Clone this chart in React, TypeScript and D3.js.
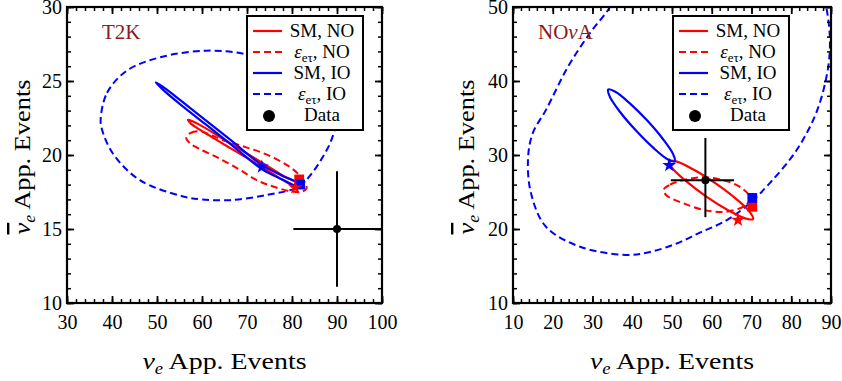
import React, { useEffect, useRef } from 'react';
import * as d3 from 'd3';

type Pt = [number, number];

// ---- T2K panel ----
const t2kXTicks = [30, 40, 50, 60, 70, 80, 90, 100];
const t2kYTicks = [10, 15, 20, 25, 30];

const t2kSmNo: Pt[] = [
  [56.9, 22.38], [59.6, 22.02], [66.2, 20.8], [72.9, 19.57], [78, 18.6], [81.4, 18.02],
  [81.0, 17.85], [78, 18.3], [72.9, 19.27], [66.2, 20.48], [59.6, 21.7], [57.6, 22.1],
];
const t2kEtNo: Pt[] = [
  [56.5, 21.15], [57.5, 21.5], [59.6, 21.6], [62, 21.35], [64.7, 21.0], [67.5, 20.75],
  [70, 20.5], [73, 20.2], [76, 19.8], [79, 19.3], [81.1, 18.8], [82.8, 18.2], [83.2, 17.75],
  [82, 17.5], [79.6, 17.55], [76, 17.85], [72.5, 18.25], [68.4, 19.0], [63.3, 19.85],
  [59.5, 20.4], [57.3, 20.8],
];
const t2kSmIo: Pt[] = [
  [49.7, 24.9], [51.8, 24.5], [55.1, 23.72], [60.7, 22.38], [66.2, 21.05], [73.3, 19.33],
  [77.6, 18.63], [81.8, 18.02], [81.6, 17.86], [77.6, 18.38], [73.3, 19.05], [66.2, 20.77],
  [60.7, 22.1], [55.1, 23.44], [51.8, 24.28],
];
const t2kEtIo: Pt[] = [
  [37.5, 22.5], [38.9, 24.2], [43.3, 25.7], [50.7, 26.6], [61, 27.05], [70, 26.8], [78, 26.0],
  [85, 24.7], [89, 23.3], [89.8, 22.3], [88.6, 20.9], [86.5, 19.7], [84, 18.6], [81.5, 17.85],
  [74.4, 17.3], [66.2, 16.95], [60, 17.0], [55.8, 17.2], [46.2, 18.3], [40.2, 20.1], [37.7, 21.8],
];
const t2kStarNo: Pt = [80.7, 17.8];
const t2kStarIo: Pt = [73.3, 19.2];
const t2kSquareNo: Pt = [81.6, 18.35];
const t2kSquareIo: Pt = [81.8, 18.0];
const t2kData: Pt = [90, 15];
const t2kDataErrX: Pt = [80.3, 100];
const t2kDataErrY: Pt = [11.1, 18.9];

// ---- NOvA panel ----
const novaXTicks = [10, 20, 30, 40, 50, 60, 70, 80, 90];
const novaYTicks = [10, 20, 30, 40, 50];

const novaSmNo: Pt[] = [
  [70.38, 21.35], [69.55, 22.32], [66.1, 24.08], [60.97, 26.16], [55.51, 28.0], [51.23, 29.11],
  [49.25, 29.19], [50.08, 28.22], [53.55, 26.46], [58.65, 24.38], [64.11, 22.54], [68.39, 21.43],
];
const novaEtNo: Pt[] = [
  [47.9, 25.3], [49.5, 26.0], [52.8, 26.6], [57.8, 27.0], [62.8, 26.6], [67.1, 25.7], [69.6, 24.3],
  [68.8, 23.3], [67.1, 22.8], [62.8, 22.3], [57.8, 22.6], [52.8, 23.5], [48.7, 24.5],
];
const novaSmIo: Pt[] = [
  [50.7, 29.14], [50.28, 30.12], [47.71, 32.16], [43.71, 34.68], [39.33, 37.01], [35.76, 38.54],
  [33.95, 38.84], [34.38, 37.85], [36.94, 35.81], [40.94, 33.3], [45.32, 30.96], [48.89, 29.43],
];
// open curve, clipped by the frame
const novaEtIo: Pt[] = [
  [35.5, 51.5], [34.4, 50], [29.4, 46.5], [23.8, 41.9], [18.3, 36.1], [15, 33], [13.8, 29.7],
  [14.5, 24.9], [18.3, 20.3], [26.9, 17.6], [38.4, 16.5], [44.5, 16.9], [51, 18], [57, 19.5],
  [63.8, 21.2], [69.6, 23.5], [74.6, 26.2], [81.4, 30.7], [86.5, 36], [89.3, 41.9], [89.7, 46],
  [88.8, 50], [88, 51.5],
];
const novaStarNo: Pt = [66.6, 21.2];
const novaStarIo: Pt = [49.3, 28.6];
const novaSquareNo: Pt = [70.2, 23.0];
const novaSquareIo: Pt = [70.2, 24.2];
const novaData: Pt = [58.4, 26.6];
const novaDataErrX: Pt = [49.7, 65.6];
const novaDataErrY: Pt = [21.6, 32.3];

const legendLabels = ['SM, NO', 'εeτ, NO', 'SM, IO', 'εeτ, IO', 'Data'];

const FONT = "'Liberation Serif', 'Times New Roman', Times, serif";
const RED = '#ff0000';
const BLUE = '#0000ff';
const LABEL_RED = '#8c1a1a';

const App = () => {
  const svgRef = useRef<SVGSVGElement>(null);

  useEffect(() => {
    const svg = d3.select(svgRef.current);
    svg.selectAll('*').remove();
    svg.attr('font-family', FONT);

    const panels = [
      {
        id: 't2k', name: ['T2K'], box: { left: 67, right: 382, top: 7, bottom: 303 },
        xDomain: [30, 100], yDomain: [10, 30], xTicks: t2kXTicks, yTicks: t2kYTicks, xStep: 2, yStep: 1,
        smNo: t2kSmNo, etNo: t2kEtNo, smIo: t2kSmIo, etIo: t2kEtIo, etIoClosed: true,
        starNo: t2kStarNo, starIo: t2kStarIo, sqNo: t2kSquareNo, sqIo: t2kSquareIo,
        data: t2kData, errX: t2kDataErrX, errY: t2kDataErrY,
        legendX: 247, nameX: 102, yTitleX: 30,
      },
      {
        id: 'nova', name: ['NO', 'ν', 'A'], box: { left: 513, right: 831, top: 7, bottom: 303 },
        xDomain: [10, 90], yDomain: [10, 50], xTicks: novaXTicks, yTicks: novaYTicks, xStep: 2, yStep: 2,
        smNo: novaSmNo, etNo: novaEtNo, smIo: novaSmIo, etIo: novaEtIo, etIoClosed: false,
        starNo: novaStarNo, starIo: novaStarIo, sqNo: novaSquareNo, sqIo: novaSquareIo,
        data: novaData, errX: novaDataErrX, errY: novaDataErrY,
        legendX: 673, nameX: 538, yTitleX: 474,
      },
    ];

    panels.forEach((p) => {
      const { left, right, top, bottom } = p.box;
      const x = d3.scaleLinear().domain(p.xDomain).range([left, right]);
      const y = d3.scaleLinear().domain(p.yDomain).range([bottom, top]);

      svg.append('clipPath').attr('id', `clip-${p.id}`)
        .append('rect').attr('x', left).attr('y', top)
        .attr('width', right - left).attr('height', bottom - top);

      const plot = svg.append('g').attr('clip-path', `url(#clip-${p.id})`);

      const closed = d3.line<Pt>().x(d => x(d[0])).y(d => y(d[1])).curve(d3.curveCatmullRomClosed.alpha(0.5));
      const open = d3.line<Pt>().x(d => x(d[0])).y(d => y(d[1])).curve(d3.curveCatmullRom.alpha(0.5));

      const contours = [
        { pts: p.etIo, color: BLUE, dashed: true, gen: p.etIoClosed ? closed : open },
        { pts: p.etNo, color: RED, dashed: true, gen: closed },
        { pts: p.smNo, color: RED, dashed: false, gen: closed },
        { pts: p.smIo, color: BLUE, dashed: false, gen: closed },
      ];
      contours.forEach(c => {
        plot.append('path')
          .attr('d', c.gen(c.pts))
          .attr('fill', 'none')
          .attr('stroke', c.color)
          .attr('stroke-width', c.dashed ? 2 : 2.2)
          .attr('stroke-dasharray', c.dashed ? '7,4' : null);
      });

      const square = d3.symbol().type(d3.symbolSquare).size(95);
      const star = d3.symbol().type(d3.symbolStar).size(60);
      [
        { pt: p.sqNo, color: RED, sym: square },
        { pt: p.sqIo, color: BLUE, sym: square },
        { pt: p.starNo, color: RED, sym: star },
        { pt: p.starIo, color: BLUE, sym: star },
      ].forEach(m => {
        plot.append('path')
          .attr('d', m.sym())
          .attr('transform', `translate(${x(m.pt[0])},${y(m.pt[1])})`)
          .attr('fill', m.color);
      });

      // data point with error bars
      plot.append('line')
        .attr('x1', x(p.errX[0])).attr('x2', x(p.errX[1]))
        .attr('y1', y(p.data[1])).attr('y2', y(p.data[1]))
        .attr('stroke', '#000').attr('stroke-width', 2);
      plot.append('line')
        .attr('x1', x(p.data[0])).attr('x2', x(p.data[0]))
        .attr('y1', y(p.errY[0])).attr('y2', y(p.errY[1]))
        .attr('stroke', '#000').attr('stroke-width', 2);
      plot.append('circle')
        .attr('cx', x(p.data[0])).attr('cy', y(p.data[1])).attr('r', 4).attr('fill', '#000');

      // experiment name
      const nm = svg.append('text')
        .attr('x', p.nameX).attr('y', 39)
        .attr('font-size', 21).attr('fill', LABEL_RED);
      p.name.forEach(s => {
        nm.append('tspan').attr('font-style', s === 'ν' ? 'italic' : null).text(s);
      });

      // legend
      const lg = svg.append('g').attr('transform', `translate(${p.legendX},16)`);
      lg.append('rect').attr('width', 116).attr('height', 114)
        .attr('fill', '#fff').attr('stroke', '#000').attr('stroke-width', 2);
      const legendStyles = [
        { color: RED, dash: null }, { color: RED, dash: '7,4' },
        { color: BLUE, dash: null }, { color: BLUE, dash: '7,4' },
      ];
      legendLabels.forEach((label, i) => {
        const cy = 15 + i * 21;
        if (i < 4) {
          lg.append('line')
            .attr('x1', 6).attr('x2', 35).attr('y1', cy).attr('y2', cy)
            .attr('stroke', legendStyles[i].color).attr('stroke-width', 2.2)
            .attr('stroke-dasharray', legendStyles[i].dash);
        } else {
          lg.append('circle').attr('cx', 22).attr('cy', cy + 1).attr('r', 6).attr('fill', '#000');
        }
        const t = lg.append('text')
          .attr('x', 75).attr('y', cy + 6)
          .attr('text-anchor', 'middle').attr('font-size', 19).attr('fill', '#000');
        if (label.startsWith('εeτ')) {
          t.append('tspan').attr('font-style', 'italic').text('ε');
          t.append('tspan').attr('font-size', 13).attr('dy', 4).text('eτ');
          t.append('tspan').attr('dy', -4).text(label.slice(3));
        } else {
          t.text(label);
        }
      });

      // axes: inward ticks on all four sides
      const xMinor = d3.range(p.xDomain[0], p.xDomain[1] + 1e-9, p.xStep);
      const yMinor = d3.range(p.yDomain[0], p.yDomain[1] + 1e-9, p.yStep);
      const axes = [
        { gen: d3.axisBottom(x), tr: `translate(0,${bottom})`, major: p.xTicks, minor: xMinor, labels: true, pad: 12 },
        { gen: d3.axisTop(x), tr: `translate(0,${top})`, major: p.xTicks, minor: xMinor, labels: false, pad: 0 },
        { gen: d3.axisLeft(y), tr: `translate(${left},0)`, major: p.yTicks, minor: yMinor, labels: true, pad: 5 },
        { gen: d3.axisRight(y), tr: `translate(${right},0)`, major: p.yTicks, minor: yMinor, labels: false, pad: 0 },
      ];
      axes.forEach(a => {
        const gMinor = svg.append('g').attr('transform', a.tr)
          .call(a.gen.tickValues(a.minor).tickSize(-4).tickFormat(() => ''));
        gMinor.select('.domain').remove();
        gMinor.selectAll('line').attr('stroke', '#000').attr('stroke-width', 1.5);

        const gMajor = svg.append('g').attr('transform', a.tr)
          .call(a.gen.tickValues(a.major).tickSize(-7).tickPadding(a.pad)
            .tickFormat(a.labels ? (d => String(d)) : () => ''));
        gMajor.select('.domain').remove();
        gMajor.attr('font-size', 20).attr('font-family', FONT);
        gMajor.selectAll('line').attr('stroke', '#000').attr('stroke-width', 1.8);
        gMajor.selectAll('text').attr('fill', '#000');
      });

      svg.append('rect')
        .attr('x', left).attr('y', top).attr('width', right - left).attr('height', bottom - top)
        .attr('fill', 'none').attr('stroke', '#000').attr('stroke-width', 2.2);

      // x title
      const xt = svg.append('text')
        .attr('x', (left + right) / 2).attr('y', 369)
        .attr('text-anchor', 'middle').attr('font-size', 24)
        .attr('textLength', 164).attr('lengthAdjust', 'spacingAndGlyphs');
      xt.append('tspan').attr('font-style', 'italic').text('ν');
      xt.append('tspan').attr('font-style', 'italic').attr('font-size', 16).attr('dy', 5).text('e');
      xt.append('tspan').attr('dy', -5).text(' App. Events');

      // y title
      const cyT = (top + bottom) / 2 + 2;
      const yt = svg.append('text')
        .attr('transform', `translate(${p.yTitleX},${cyT}) rotate(-90)`)
        .attr('text-anchor', 'middle').attr('font-size', 24)
        .attr('textLength', 155).attr('lengthAdjust', 'spacingAndGlyphs');
      yt.append('tspan').attr('font-style', 'italic').style('text-decoration', 'overline').text('ν');
      yt.append('tspan').attr('font-style', 'italic').attr('font-size', 16).attr('dy', 5).text('e');
      yt.append('tspan').attr('dy', -5).text(' App. Events');
    });
  }, []);

  return (
    <svg
      ref={svgRef}
      width={842}
      height={381}
      style={{ position: 'absolute', left: 0, top: 0, background: '#fff' }}
    />
  );
};

export default App;
